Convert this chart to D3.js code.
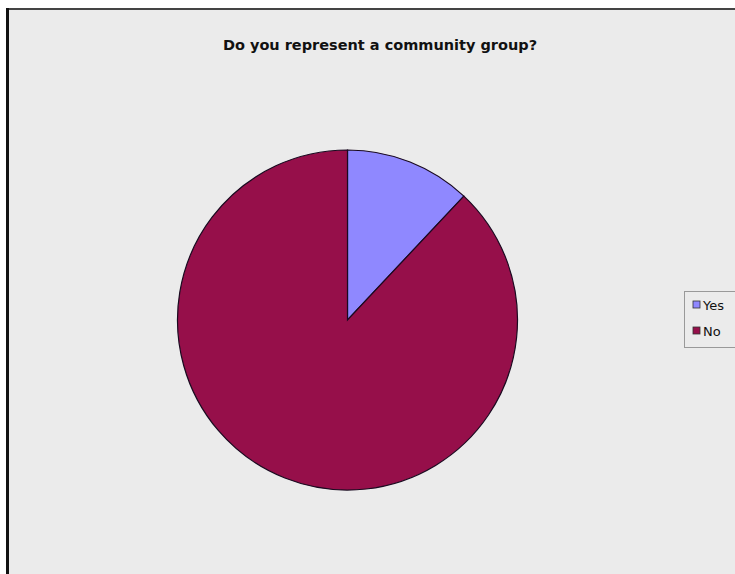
<!DOCTYPE html>
<html>
<head>
<meta charset="utf-8">
<script src="https://cdn.jsdelivr.net/npm/d3@7"></script>
<style>
  body { margin: 0; background: #fff; }
  text { font-family: "DejaVu Sans", Verdana, sans-serif; }
</style>
</head>
<body>
<svg width="735" height="574"></svg>
<script>
var categories = ["Yes", "No"];
var values = [12, 88];
var colors = ["#8f88ff", "#960f4a"];
var title = "Do you represent a community group?";

var svg = d3.select("svg");
var width = +svg.attr("width");
var height = +svg.attr("height");

// chart area background + frame
svg.append("rect")
    .attr("x", 8).attr("y", 10)
    .attr("width", width).attr("height", height)
    .style("fill", "#ebebeb");
svg.append("line")
    .attr("x1", 7).attr("y1", 9).attr("x2", width).attr("y2", 9)
    .style("stroke", "#444").style("stroke-width", 2);
svg.append("line")
    .attr("x1", 7.5).attr("y1", 8).attr("x2", 7.5).attr("y2", height)
    .style("stroke", "#111").style("stroke-width", 3);

svg.append("text")
    .attr("x", 380).attr("y", 50)
    .attr("text-anchor", "middle")
    .style("font-size", "14.5px")
    .style("font-weight", "bold")
    .style("fill", "#111")
    .text(title);

var color = d3.scaleOrdinal().domain(categories).range(colors);

var pie = d3.pie().sort(null).value(function(d, i) { return values[i]; });
var arc = d3.arc().innerRadius(0).outerRadius(170);

var g = svg.append("g")
    .attr("transform", "translate(347.5,320)");

g.selectAll("path")
    .data(pie(categories))
    .enter().append("path")
      .attr("d", arc)
      .style("fill", function(d) { return color(d.data); })
      .style("stroke", "#1a0a20")
      .style("stroke-width", 1.2);

// legend
var legend = svg.append("g").attr("transform", "translate(684,291)");
legend.append("rect")
    .attr("x", 0.5).attr("y", 0.5)
    .attr("width", 60).attr("height", 56)
    .style("fill", "#ebebeb")
    .style("stroke", "#999");

var item = legend.selectAll(".item")
    .data(categories)
    .enter().append("g")
      .attr("class", "item")
      .attr("transform", function(d, i) { return "translate(9," + (10 + i * 26) + ")"; });

item.append("rect")
    .attr("width", 7).attr("height", 7)
    .style("fill", function(d) { return color(d); })
    .style("stroke", "#333")
    .style("stroke-width", 0.8);

item.append("text")
    .attr("x", 10).attr("y", 8.5)
    .style("font-size", "13px")
    .style("fill", "#111")
    .text(function(d) { return d; });
</script>
</body>
</html>
